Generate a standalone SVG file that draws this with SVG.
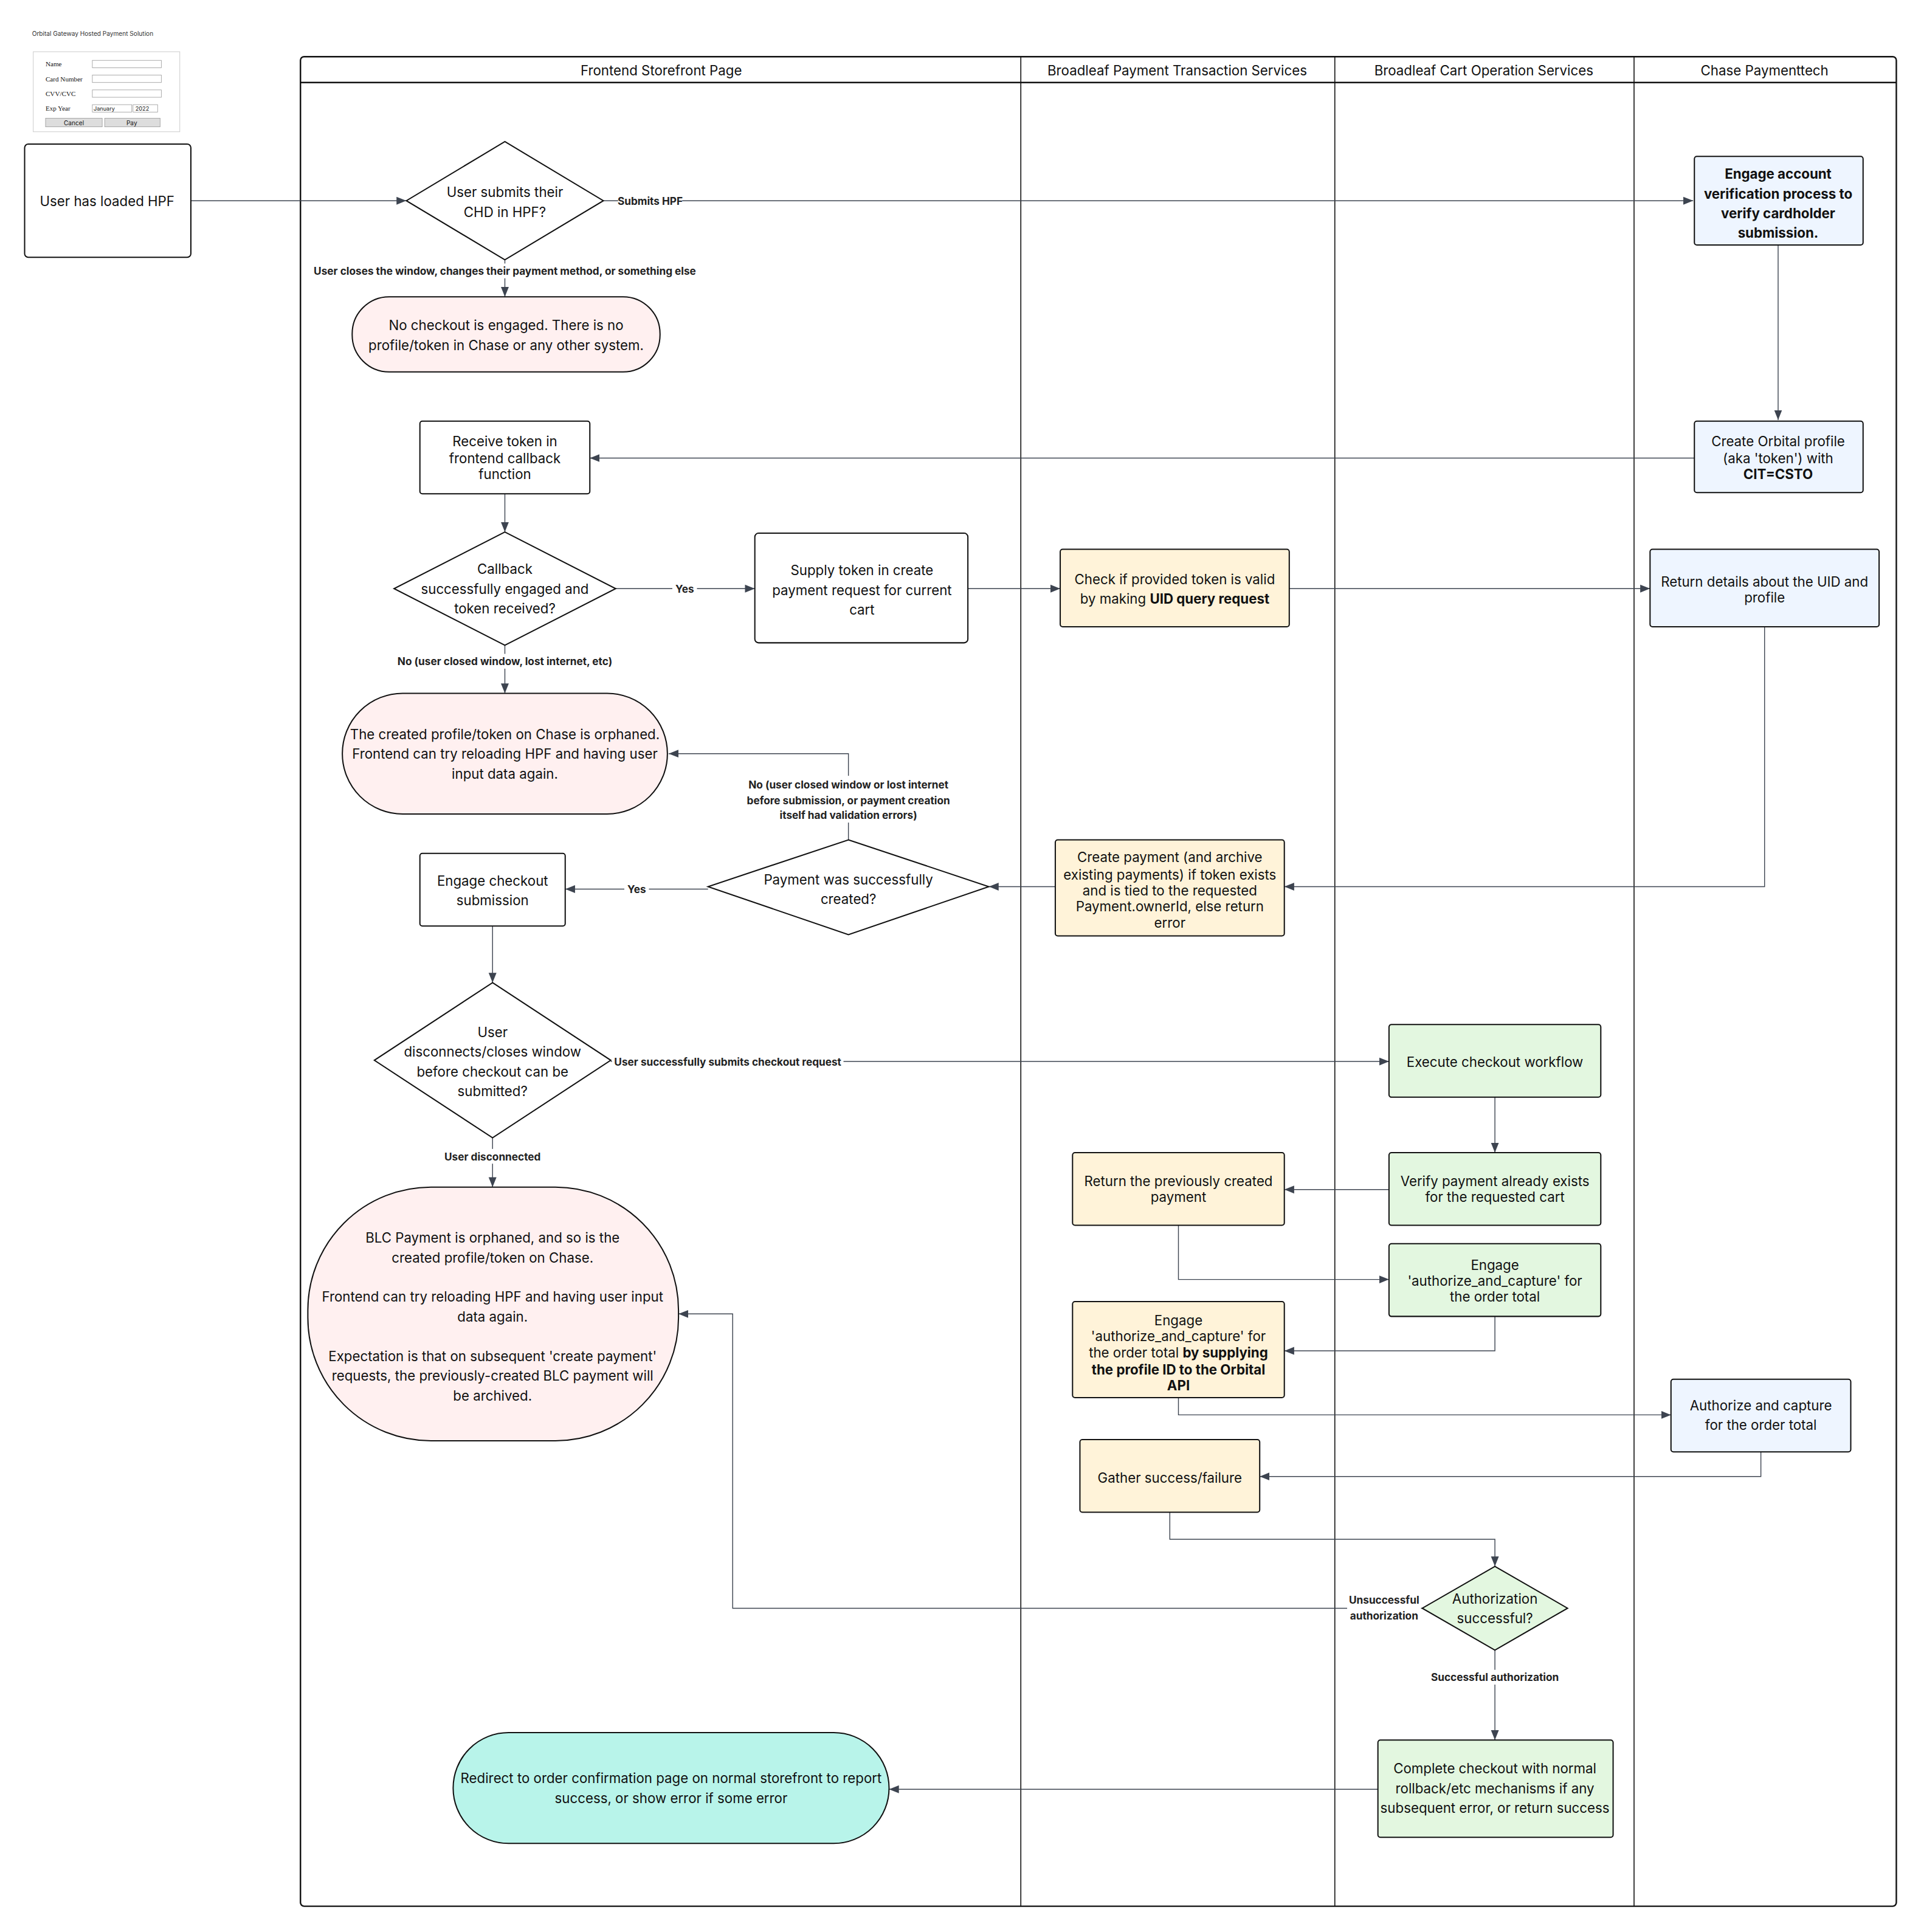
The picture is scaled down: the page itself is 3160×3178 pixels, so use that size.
<svg xmlns="http://www.w3.org/2000/svg" width="3160" height="3178" viewBox="0 0 3160 3178">
<style>
text{font-family:Inter,"Liberation Sans",sans-serif;font-size:11px;fill:#111;text-anchor:middle;dominant-baseline:central}
.n{fill:#fff;stroke:#111;stroke-width:1}
.y{fill:#fff3d9;stroke:#111;stroke-width:1}
.b{fill:#eef5ff;stroke:#111;stroke-width:1}
.g{fill:#e3f7e0;stroke:#111;stroke-width:1}
.p{fill:#fff0f0;stroke:#111;stroke-width:1}
.c{fill:none;stroke:#3d4450;stroke-width:0.7}
.l{font-size:8.5px;font-weight:bold;fill:#222}
.bd{font-weight:bold}
.f{font-family:"Liberation Serif",serif;font-size:5.5px;text-anchor:start}
.fi{fill:#fff;stroke:#999;stroke-width:0.4}
.bt{fill:#ddd;stroke:#999;stroke-width:0.4}
.w{fill:#fff}
</style>
<defs><marker id="a" viewBox="0 0 10 10" refX="10" refY="5" markerWidth="8" markerHeight="8" orient="auto" markerUnits="userSpaceOnUse"><path d="M0,1 L10,5 L0,9 z" fill="#3d4450"/></marker></defs>
<rect width="3160" height="3178" fill="#fff"/>
<g transform="scale(2.0256)">
<g id="pool">
<rect x="244" y="46" width="1296" height="1502" rx="3" fill="none" stroke="#111" stroke-width="1.2"/>
<line x1="244" y1="67" x2="1540" y2="67" stroke="#111" stroke-width="1.2"/>
<line x1="829" y1="46" x2="829" y2="1548" stroke="#111" stroke-width="0.8"/>
<line x1="1084" y1="46" x2="1084" y2="1548" stroke="#111" stroke-width="0.8"/>
<line x1="1327" y1="46" x2="1327" y2="1548" stroke="#111" stroke-width="0.8"/>
<text x="537" y="57">Frontend Storefront Page</text>
<text x="956" y="57">Broadleaf Payment Transaction Services</text>
<text x="1205" y="57">Broadleaf Cart Operation Services</text>
<text x="1433" y="57">Chase Paymenttech</text>
</g>
<g id="hpf-form">
<text x="26" y="27" style="font-size:5px;text-anchor:start;fill:#333">Orbital Gateway Hosted Payment Solution</text>
<rect x="27" y="42" width="119" height="65" fill="#fff" stroke="#ccc" stroke-width="0.5"/>
<text class="f" x="37" y="52">Name</text><rect class="fi" x="75" y="49" width="56" height="6"/>
<text class="f" x="37" y="64">Card Number</text><rect class="fi" x="75" y="61" width="56" height="6"/>
<text class="f" x="37" y="76">CVV/CVC</text><rect class="fi" x="75" y="73" width="56" height="6"/>
<text class="f" x="37" y="88">Exp Year</text><rect class="fi" x="75" y="85" width="32" height="6"/><rect class="fi" x="108" y="85" width="20" height="6"/>
<text x="76" y="88" style="font-size:4.5px;text-anchor:start">January</text><text x="110" y="88" style="font-size:4.5px;text-anchor:start">2022</text>
<rect class="bt" x="37" y="96" width="46" height="7"/><rect class="bt" x="85" y="96" width="45" height="7"/>
<text x="60" y="99.5" style="font-size:5px">Cancel</text><text x="107" y="99.5" style="font-size:5px">Pay</text>
</g>
<g id="connectors">
<path class="c" marker-end="url(#a)" d="M155,163 H330"/>
<path class="c" marker-end="url(#a)" d="M490,163 H1375"/>
<path class="c" marker-end="url(#a)" d="M410,211 V241"/>
<path class="c" marker-end="url(#a)" d="M1444,199 V341"/>
<path class="c" marker-end="url(#a)" d="M1376,372 H479"/>
<path class="c" marker-end="url(#a)" d="M410,401 V432"/>
<path class="c" marker-end="url(#a)" d="M500,478 H613"/>
<path class="c" marker-end="url(#a)" d="M786,478 H861"/>
<path class="c" marker-end="url(#a)" d="M1047,478 H1340"/>
<path class="c" marker-end="url(#a)" d="M1433,509 V720 H1043"/>
<path class="c" marker-end="url(#a)" d="M857,720 H803"/>
<path class="c" marker-end="url(#a)" d="M689,682 V612 H543"/>
<path class="c" marker-end="url(#a)" d="M410,524 V563"/>
<path class="c" marker-end="url(#a)" d="M575,722 H459"/>
<path class="c" marker-end="url(#a)" d="M400,752 V798"/>
<path class="c" marker-end="url(#a)" d="M496,862 H1128"/>
<path class="c" marker-end="url(#a)" d="M1214,891 V936"/>
<path class="c" marker-end="url(#a)" d="M1128,966 H1043"/>
<path class="c" marker-end="url(#a)" d="M957,995 V1039 H1128"/>
<path class="c" marker-end="url(#a)" d="M1214,1069 V1097 H1043"/>
<path class="c" marker-end="url(#a)" d="M957,1135 V1149 H1357"/>
<path class="c" marker-end="url(#a)" d="M1430,1179 V1199 H1023"/>
<path class="c" marker-end="url(#a)" d="M950,1228 V1250 H1214 V1272"/>
<path class="c" marker-end="url(#a)" d="M1155,1306 H595 V1067 H551"/>
<path class="c" marker-end="url(#a)" d="M400,924 V964"/>
<path class="c" marker-end="url(#a)" d="M1214,1340 V1413"/>
<path class="c" marker-end="url(#a)" d="M1119,1453 H722"/>
<g id="labels">
<rect class="w" x="502" y="158" width="52" height="10"/><text class="l" x="528" y="163">Submits HPF</text>
<rect class="w" x="250" y="214" width="320" height="12"/><text class="l" x="410" y="220">User closes the window, changes their payment method, or something else</text>
<rect class="w" x="546" y="473" width="20" height="10"/><text class="l" x="556" y="478">Yes</text>
<rect class="w" x="318" y="531" width="184" height="12"/><text class="l" x="410" y="537">No (user closed window, lost internet, etc)</text>
<rect class="w" x="600" y="630" width="178" height="38"/>
<text class="l" x="689" y="637">No (user closed window or lost internet</text>
<text class="l" x="689" y="650">before submission, or payment creation</text>
<text class="l" x="689" y="662">itself had validation errors)</text>
<rect class="w" x="507" y="717" width="20" height="10"/><text class="l" x="517" y="722">Yes</text>
<rect class="w" x="497" y="857" width="188" height="10"/><text class="l" x="591" y="862">User successfully submits checkout request</text>
<rect class="w" x="358" y="933" width="84" height="12"/><text class="l" x="400" y="939">User disconnected</text>
<rect class="w" x="1094" y="1293" width="60" height="24"/>
<text class="l" x="1124" y="1299">Unsuccessful</text><text class="l" x="1124" y="1312">authorization</text>
<rect class="w" x="1158" y="1356" width="112" height="12"/><text class="l" x="1214" y="1362">Successful authorization</text>
</g>
</g>
<g id="n-loaded"><rect class="n" x="20" y="117" width="135" height="92" rx="3"/><text x="87" y="163">User has loaded HPF</text></g>
<g id="n-submits"><path class="n" d="M410,115 L490,163 L410,211 L330,163 Z"/><text x="410" y="156">User submits their</text><text x="410" y="172">CHD in HPF?</text></g>
<g id="n-engage-verify"><rect class="b" x="1376" y="127" width="137" height="72" rx="2"/><text class="bd" x="1444" y="141">Engage account</text><text class="bd" x="1444" y="157">verification process to</text><text class="bd" x="1444" y="173">verify cardholder</text><text class="bd" x="1444" y="189">submission.</text></g>
<g id="n-nocheckout"><rect class="p" x="286" y="241" width="250" height="61" rx="30"/><text x="411" y="264">No checkout is engaged. There is no</text><text x="411" y="280">profile/token in Chase or any other system.</text></g>
<g id="n-create-profile"><rect class="b" x="1376" y="342" width="137" height="58" rx="2"/><text x="1444" y="358">Create Orbital profile</text><text x="1444" y="372">(aka 'token') with</text><text class="bd" x="1444" y="385">CIT=CSTO</text></g>
<g id="n-receive"><rect class="n" x="341" y="342" width="138" height="59" rx="2"/><text x="410" y="358">Receive token in</text><text x="410" y="372">frontend callback</text><text x="410" y="385">function</text></g>
<g id="n-callback"><path class="n" d="M410,432 L500,478 L410,524 L320,478 Z"/><text x="410" y="462">Callback</text><text x="410" y="478">successfully engaged and</text><text x="410" y="494">token received?</text></g>
<g id="n-supply"><rect class="n" x="613" y="433" width="173" height="89" rx="3"/><text x="700" y="463">Supply token in create</text><text x="700" y="479">payment request for current</text><text x="700" y="495">cart</text></g>
<g id="n-check"><rect class="y" x="861" y="446" width="186" height="63" rx="2"/><text x="954" y="470">Check if provided token is valid</text><text x="954" y="486">by making <tspan class="bd">UID query request</tspan></text></g>
<g id="n-return-details"><rect class="b" x="1340" y="446" width="186" height="63" rx="2"/><text x="1433" y="472">Return details about the UID and</text><text x="1433" y="485">profile</text></g>
<g id="n-orphaned1"><rect class="p" x="278" y="563" width="264" height="98" rx="49"/><text x="410" y="596">The created profile/token on Chase is orphaned.</text><text x="410" y="612">Frontend can try reloading HPF and having user</text><text x="410" y="628">input data again.</text></g>
<g id="n-create-payment"><rect class="y" x="857" y="682" width="186" height="78" rx="2"/><text x="950" y="696">Create payment (and archive</text><text x="950" y="710">existing payments) if token exists</text><text x="950" y="723">and  is tied to the requested</text><text x="950" y="736">Payment.ownerId, else return</text><text x="950" y="749">error</text></g>
<g id="n-payment-created"><path class="n" d="M689,682 L803,720 L689,759 L575,720 Z"/><text x="689" y="714">Payment was successfully</text><text x="689" y="730">created?</text></g>
<g id="n-engage-checkout"><rect class="n" x="341" y="693" width="118" height="59" rx="2"/><text x="400" y="715">Engage checkout</text><text x="400" y="731">submission</text></g>
<g id="n-disconnect"><path class="n" d="M400,798 L496,861 L400,924 L304,861 Z"/><text x="400" y="838">User</text><text x="400" y="854">disconnects/closes window</text><text x="400" y="870">before checkout can be</text><text x="400" y="886">submitted?</text></g>
<g id="n-execute"><rect class="g" x="1128" y="832" width="172" height="59" rx="2"/><text x="1214" y="862">Execute checkout workflow</text></g>
<g id="n-verify"><rect class="g" x="1128" y="936" width="172" height="59" rx="2"/><text x="1214" y="959">Verify payment already exists</text><text x="1214" y="972">for the requested cart</text></g>
<g id="n-return-prev"><rect class="y" x="871" y="936" width="172" height="59" rx="2"/><text x="957" y="959">Return the previously created</text><text x="957" y="972">payment</text></g>
<g id="n-engage-auth-cart"><rect class="g" x="1128" y="1010" width="172" height="59" rx="2"/><text x="1214" y="1027">Engage</text><text x="1214" y="1040">'authorize_and_capture' for</text><text x="1214" y="1053">the order total</text></g>
<g id="n-engage-auth-pay"><rect class="y" x="871" y="1057" width="172" height="78" rx="2"/><text x="957" y="1072">Engage</text><text x="957" y="1085">'authorize_and_capture' for</text><text x="957" y="1098">the order total  <tspan class="bd">by supplying</tspan></text><text class="bd" x="957" y="1112">the profile ID to the Orbital</text><text class="bd" x="957" y="1125">API</text></g>
<g id="n-authorize"><rect class="b" x="1357" y="1120" width="146" height="59" rx="2"/><text x="1430" y="1141">Authorize  and capture</text><text x="1430" y="1157">for the order total</text></g>
<g id="n-gather"><rect class="y" x="877" y="1169" width="146" height="59" rx="2"/><text x="950" y="1200">Gather success/failure</text></g>
<g id="n-auth-success"><path class="g" d="M1214,1272 L1273,1306 L1214,1340 L1155,1306 Z"/><text x="1214" y="1298">Authorization</text><text x="1214" y="1314">successful?</text></g>
<g id="n-orphaned2"><rect class="p" x="250" y="964" width="301" height="206" rx="100"/><text x="400" y="1005">BLC Payment is orphaned, and so is the</text><text x="400" y="1021">created profile/token on Chase.</text><text x="400" y="1053">Frontend can try reloading HPF and having user input</text><text x="400" y="1069">data again.</text><text x="400" y="1101">Expectation is that on subsequent 'create payment'</text><text x="400" y="1117">requests, the previously-created BLC payment will</text><text x="400" y="1133">be archived.</text></g>
<g id="n-complete"><rect class="g" x="1119" y="1413" width="191" height="79" rx="2"/><text x="1214" y="1436">Complete checkout with normal</text><text x="1214" y="1452">rollback/etc mechanisms if any</text><text x="1214" y="1468">subsequent error, or return success</text></g>
<g id="n-redirect"><rect x="368" y="1407" width="354" height="90" rx="45" fill="#b8f4ea" stroke="#111"/><text x="545" y="1444">Redirect to order confirmation page on normal storefront to report</text><text x="545" y="1460">success, or show error if some error</text></g>
</g>
</svg>
